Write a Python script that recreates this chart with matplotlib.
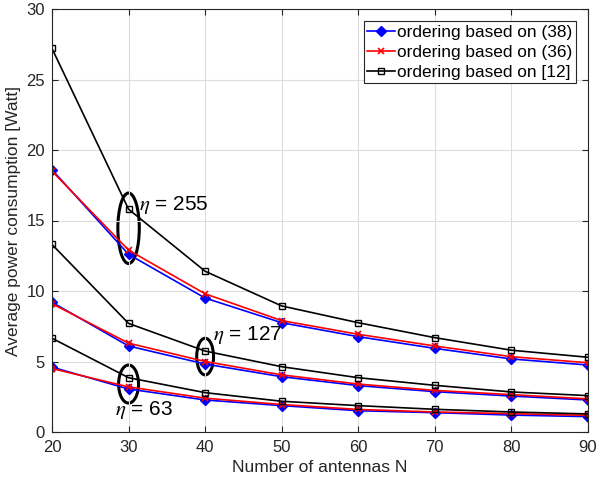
import matplotlib
matplotlib.use("Agg")
import matplotlib.pyplot as plt
from matplotlib.patches import Ellipse

plt.rcParams["font.family"] = ["Liberation Sans", "DejaVu Sans"]
plt.rcParams["mathtext.fontset"] = "stix"

N = [20, 30, 40, 50, 60, 70, 80, 90]

# eta = 255
p38_255 = [18.6, 12.6, 9.5, 7.75, 6.76, 5.93, 5.18, 4.75]
p36_255 = [18.5, 12.9, 9.8, 7.9, 6.93, 6.1, 5.34, 4.91]
p12_255 = [27.2, 15.8, 11.4, 8.94, 7.75, 6.69, 5.8, 5.3]
# eta = 127
p38_127 = [9.2, 6.1, 4.82, 3.92, 3.29, 2.86, 2.55, 2.27]
p36_127 = [9.1, 6.3, 5.0, 4.05, 3.4, 2.95, 2.65, 2.35]
p12_127 = [13.3, 7.7, 5.74, 4.63, 3.85, 3.31, 2.84, 2.58]
# eta = 63
p38_63 = [4.6, 3.05, 2.27, 1.87, 1.51, 1.37, 1.2, 1.09]
p36_63 = [4.5, 3.2, 2.4, 1.95, 1.6, 1.42, 1.3, 1.18]
p12_63 = [6.65, 3.85, 2.79, 2.18, 1.87, 1.61, 1.42, 1.28]

fig = plt.figure(figsize=(5.97, 4.83), dpi=100)
ax = fig.add_axes([52/597, 1-432/483, 536/597, 423/483])

for p38, p36, p12, first in [(p38_255, p36_255, p12_255, True),
                             (p38_127, p36_127, p12_127, False),
                             (p38_63, p36_63, p12_63, False)]:
    ax.plot(N, p38, color="blue", marker="D", markersize=5, lw=1.2,
            label="ordering based on (38)" if first else None)
    ax.plot(N, p36, color="red", marker="x", markersize=4, mew=1.2, lw=1.2,
            label="ordering based on (36)" if first else None)
    ax.plot(N, p12, color="black", marker="s", markersize=4, mfc="none", lw=1.2,
            label="ordering based on [12]" if first else None)

# ellipses around the eta groups
ax.add_patch(Ellipse((30, 14.45), 2.8, 5.0, fill=False, ec="black", lw=2.2))
ax.add_patch(Ellipse((40, 5.35), 2.2, 2.6, fill=False, ec="black", lw=2.2))
ax.add_patch(Ellipse((30, 3.4), 2.6, 2.7, fill=False, ec="black", lw=2.2))

ax.text(31.4, 16.1, r"$\eta$ = 255", fontsize=15, va="center")
ax.text(41.0, 6.9, r"$\eta$ = 127", fontsize=15, va="center")
ax.text(28.2, 1.55, r"$\eta$ = 63", fontsize=15, va="center")

ax.set_xlim(20, 90)
ax.set_ylim(0, 30)
ax.set_xticks(range(20, 91, 10))
ax.set_yticks(range(0, 31, 5))
ax.tick_params(direction="in", top=True, right=True, labelsize=12, length=4,
               color="#262626", labelcolor="#262626")
ax.tick_params(axis="y", pad=5)
ax.tick_params(axis="x", pad=6)
ax.grid(True, color="#dddddd", lw=0.8)
for s in ax.spines.values():
    s.set_color("#262626")
ax.set_xlabel("Number of antennas N", fontsize=12.5, color="#262626", labelpad=3)
ax.set_ylabel("Average power consumption [Watt]", fontsize=12.5, color="#262626",
              labelpad=4)

leg = ax.legend(loc="upper right", fontsize=12.4, fancybox=False, framealpha=1,
                edgecolor="#262626", borderpad=0.2, handlelength=1.6,
                handletextpad=0.15, labelspacing=0.3, borderaxespad=0.7)
leg.get_frame().set_linewidth(0.8)

fig.savefig("out.png", dpi=100)
